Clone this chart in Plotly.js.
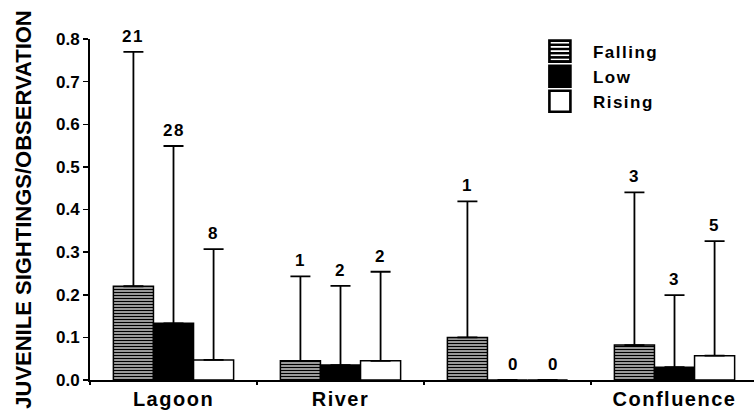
<!DOCTYPE html>
<html>
<head>
<meta charset="utf-8">
<script src="https://cdn.plot.ly/plotly-3.0.1.min.js"></script>
<style>
  html, body { margin: 0; padding: 0; background: #fff; }
  #chart { width: 754px; height: 413px; }
  .xtick text { letter-spacing: 1.5px; }
  .legendtext { letter-spacing: 1.5px; }
  .annotation-text { letter-spacing: 1.5px; }
  .legendpoints path { transform: translate(33px, 0px) scale(1.75); }
</style>
</head>
<body>
<div id="chart"></div>
<script>
// ---- data ----
const categories = ["Lagoon", "River", "Site3", "Confluence"];
const tickLabels = ["Lagoon", "River", "", "Confluence"];

const fallingMean = [0.22, 0.045, 0.10, 0.082];
const fallingErr  = [0.55, 0.198, 0.319, 0.358];
const fallingN    = [21, 1, 1, 3];

const lowMean = [0.133, 0.035, 0, 0.03];
const lowErr  = [0.416, 0.186, null, 0.169];
const lowN    = [28, 2, 0, 3];

const risingMean = [0.047, 0.045, 0, 0.057];
const risingErr  = [0.26, 0.209, null, 0.269];
const risingN    = [8, 2, 0, 5];

const seriesNames = ["Falling", "Low", "Rising"];

// ---- build traces ----
const FONT = "Liberation Sans, Arial, Helvetica, sans-serif";
function errSpec(arr) {
  return {
    type: "data", symmetric: false,
    array: arr, arrayminus: arr.map(v => (v === null ? null : 0)),
    color: "black", thickness: 1.8, width: 10
  };
}
const traces = [
  {
    type: "bar", name: seriesNames[0], x: categories, y: fallingMean,
    marker: { color: "white", line: { color: "black", width: 1.5 },
              pattern: { shape: "-", fgcolor: "black", bgcolor: "white", size: 3, solidity: 0.6 } },
    error_y: errSpec(fallingErr)
  },
  {
    type: "bar", name: seriesNames[1], x: categories, y: lowMean,
    marker: { color: "black", line: { color: "black", width: 1.5 } },
    error_y: errSpec(lowErr)
  },
  {
    type: "bar", name: seriesNames[2], x: categories, y: risingMean,
    marker: { color: "white", line: { color: "black", width: 1.5 } },
    error_y: errSpec(risingErr)
  }
];

// ---- sample-size labels above error bars ----
const plotLeft = 90, plotRight = 754;
const xRange = [-0.5, 3.476];
const pxPerCat = (plotRight - plotLeft) / (xRange[1] - xRange[0]);
const bargap = 0.28;
const barW = pxPerCat * (1 - bargap) / 3;
const annotations = [];
[[fallingMean, fallingErr, fallingN], [lowMean, lowErr, lowN], [risingMean, risingErr, risingN]]
  .forEach((s, si) => {
    const [m, e, n] = s;
    categories.forEach((c, ci) => {
      const noBar = e[ci] === null;
      annotations.push({
        x: c, y: m[ci] + (e[ci] || 0), xref: "x", yref: "y",
        xshift: (si - 1) * barW + (noBar ? 6 : 0), yshift: 4,
        yanchor: "bottom", showarrow: false, text: String(n[ci]),
        font: { family: FONT, size: 17, color: "black", weight: "bold" }
      });
    });
  });

const layout = {
  width: 754, height: 413,
  margin: { l: plotLeft, r: 754 - plotRight, t: 39, b: 33, pad: 0 },
  paper_bgcolor: "white", plot_bgcolor: "white",
  barmode: "group", bargap: bargap, bargroupgap: 0,
  showlegend: true,
  legend: {
    x: 0.658, y: 1.016, xanchor: "left", yanchor: "top",
    itemwidth: 56,
    bgcolor: "rgba(0,0,0,0)", tracegroupgap: 0,
    font: { family: FONT, size: 17, color: "black", weight: "bold" }
  },
  xaxis: {
    type: "category", range: xRange,
    tickvals: categories, ticktext: tickLabels,
    showline: true, linecolor: "black", linewidth: 2,
    ticks: "outside", tickson: "boundaries", ticklen: 3, tickwidth: 1.5, tickcolor: "black",
    showgrid: false, zeroline: false,
    tickfont: { family: FONT, size: 20, color: "black", weight: "bold" }
  },
  yaxis: {
    range: [0, 0.8], dtick: 0.1, tickformat: ".1f",
    showline: true, linecolor: "black", linewidth: 2,
    ticks: "outside", ticklen: 5, tickwidth: 1.5, tickcolor: "black",
    showgrid: false, zeroline: false,
    tickfont: { family: FONT, size: 17, color: "black", weight: "bold" },
    title: { text: "JUVENILE SIGHTINGS/OBSERVATION", standoff: 18,
             font: { family: FONT, size: 22, color: "black", weight: "bold" } }
  },
  annotations: annotations
};

Plotly.newPlot("chart", traces, layout, { displayModeBar: false, staticPlot: true });
</script>
</body>
</html>
